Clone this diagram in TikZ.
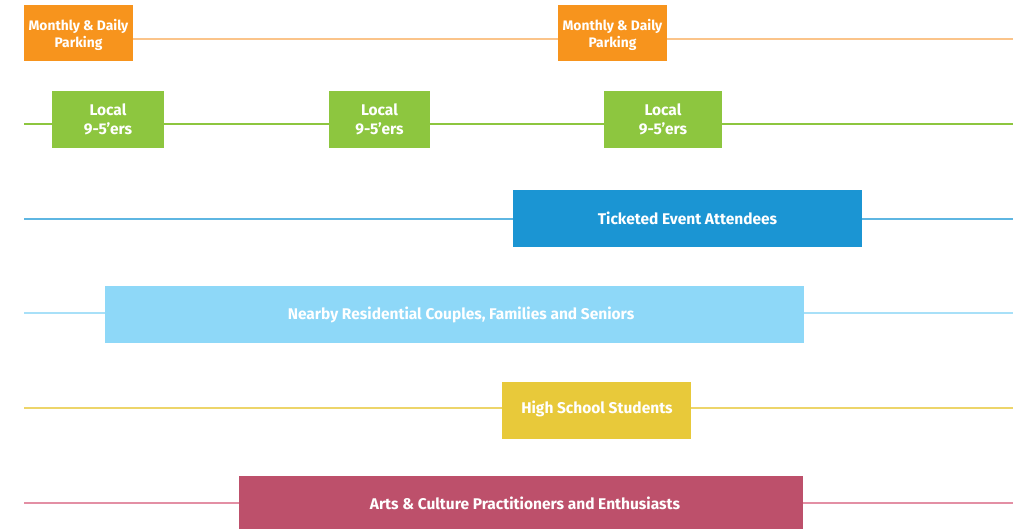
\documentclass[tikz,border=0pt]{standalone}
\usepackage{fontspec}
\setmainfont{Fira Sans}
\usetikzlibrary{positioning}

\begin{document}
\begin{tikzpicture}[x=1pt,y=-1pt,
    seg/.style={fill=#1,draw=none,text=white,inner sep=0pt,align=center,
      font=\fontsize{15.5}{19}\selectfont\bfseries},
    track/.style={line width=1.1pt,#1}]
        \definecolor{parking}{HTML}{F7941D}
        \definecolor{parkline}{HTML}{FBC48A}
        \definecolor{local}{HTML}{8DC63F}
        \definecolor{ticket}{HTML}{1B95D3}
        \definecolor{ticketline}{HTML}{5EB6E2}
        \definecolor{resident}{HTML}{8ED8F8}
        \definecolor{residentline}{HTML}{A8E0F8}
        \definecolor{school}{HTML}{E8C93A}
        \definecolor{schoolline}{HTML}{EDD56A}
        \definecolor{arts}{HTML}{BD506B}
        \definecolor{artsline}{HTML}{E38FA4}

        \useasboundingbox (0,0) rectangle (1013,529);

        % parking
        \coordinate (p-in) at (24,39);
        \coordinate (p-out) at (1013,39);
        \node[seg=parking,minimum width=109pt,minimum height=56pt] (park1) at (78.5,33) {};
        \node[seg=parking,minimum width=109pt,minimum height=56pt] (park2) at (612.5,33) {};
        \node[text=white,align=center,font=\fontsize{13.8}{17}\selectfont\bfseries] (park1-txt) at (78.5,35) {Monthly \& Daily\\Parking};
        \node[text=white,align=center,font=\fontsize{13.8}{17}\selectfont\bfseries] (park2-txt) at (612.5,35) {Monthly \& Daily\\Parking};
        \draw[track=parkline] (park1.east |- p-in) -- (park2.west |- p-in);
        \draw[track=parkline] (park2.east |- p-out) -- (p-out);

        % 9-5
        \coordinate (l-in) at (24,124);
        \coordinate (l-out) at (1013,124);
        \node[seg=local,minimum width=112pt,minimum height=57pt] (local1) at (108,119.5) {Local\\9-5’ers};
        \node[seg=local,minimum width=101pt,minimum height=57pt] (local2) at (379.5,119.5) {Local\\9-5’ers};
        \node[seg=local,minimum width=118pt,minimum height=57pt] (local3) at (663,119.5) {Local\\9-5’ers};
        \draw[track=local] (l-in) -- (local1.west |- l-in);
        \draw[track=local] (local1.east |- l-in) -- (local2.west |- l-in);
        \draw[track=local] (local2.east |- l-in) -- (local3.west |- l-in);
        \draw[track=local] (local3.east |- l-in) -- (l-out);

        % events
        \coordinate (t-in) at (24,219);
        \coordinate (t-out) at (1013,219);
        \node[seg=ticket,minimum width=349pt,minimum height=57pt] (ticket) at (687.5,218.5) {Ticketed Event Attendees};
        \draw[track=ticketline] (t-in) -- (ticket.west |- t-in);
        \draw[track=ticketline] (ticket.east |- t-in) -- (t-out);

        % residents
        \coordinate (r-in) at (24,313);
        \coordinate (r-out) at (1013,313);
        \node[seg=resident,minimum width=699pt,minimum height=57pt] (resident) at (454.5,314.5) {};
        \node[text=white,font=\fontsize{15.5}{19}\selectfont\bfseries] (resident-txt) at (461,315) {Nearby Residential Couples, Families and Seniors};
        \draw[track=residentline] (r-in) -- (resident.west |- r-in);
        \draw[track=residentline] (resident.east |- r-in) -- (r-out);

        % students
        \coordinate (s-in) at (24,408);
        \coordinate (s-out) at (1013,408);
        \node[seg=school,minimum width=189pt,minimum height=57pt] (school) at (596.5,410.5) {};
        \node[text=white,font=\fontsize{15.5}{19}\selectfont\bfseries] (school-txt) at (597,409) {High School Students};
        \draw[track=schoolline] (s-in) -- (school.west |- s-in);
        \draw[track=schoolline] (school.east |- s-in) -- (s-out);

        % arts
        \coordinate (a-in) at (24,503);
        \coordinate (a-out) at (1013,503);
        \node[seg=arts,minimum width=564pt,minimum height=57pt] (arts) at (521,504.5) {};
        \node[text=white,font=\fontsize{15.5}{19}\selectfont\bfseries] (arts-txt) at (525,503) {Arts \& Culture Practitioners and Enthusiasts};
        \draw[track=artsline] (a-in) -- (arts.west |- a-in);
        \draw[track=artsline] (arts.east |- a-in) -- (a-out);
\end{tikzpicture}
\end{document}
